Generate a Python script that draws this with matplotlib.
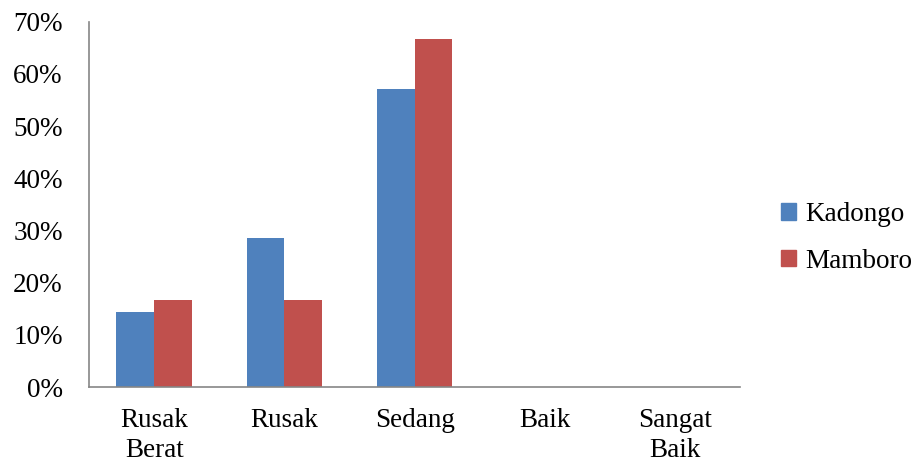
import numpy as np
import matplotlib.pyplot as plt
from matplotlib.patches import Patch
from matplotlib.ticker import FuncFormatter

# kondisi dan persentase per lokasi
kondisi = ['Rusak\nBerat', 'Rusak', 'Sedang', 'Baik', 'Sangat\nBaik']
kadongo = [14.3, 28.6, 57.1, 0, 0]
mamboro = [16.7, 16.7, 66.7, 0, 0]

warna_kadongo = '#4F81BD'
warna_mamboro = '#C0504D'

plt.rcParams['font.family'] = ['Liberation Serif', 'DejaVu Serif']

fig = plt.figure(figsize=(9.16, 4.63), dpi=100)
ax = fig.add_axes([0.0972, 0.164, 0.711, 0.789])

x = np.arange(len(kondisi))
w = 0.29
ax.bar(x - w / 2, kadongo, w, color=warna_kadongo)
ax.bar(x + w / 2, mamboro, w, color=warna_mamboro)

ax.set_xlim(-0.5, len(kondisi) - 0.5)
ax.set_ylim(0, 70)
ax.set_yticks(np.arange(0, 71, 10))
ax.yaxis.set_major_formatter(FuncFormatter(lambda v, p: f'{v:.0f}%'))
ax.set_xticks(x)
ax.set_xticklabels(kondisi, linespacing=1.25)
ax.tick_params(axis='both', length=0, labelsize=19.5)
ax.tick_params(axis='y', pad=19)
ax.tick_params(axis='x', pad=15)

for s in ['top', 'right']:
    ax.spines[s].set_visible(False)
for s in ['left', 'bottom']:
    ax.spines[s].set_color('#868686')
    ax.spines[s].set_linewidth(1.2)

handles = [Patch(color=warna_kadongo), Patch(color=warna_mamboro)]
fig.legend(handles, ['Kadongo', 'Mamboro'], loc='center left',
           bbox_to_anchor=(0.853, 0.486), frameon=False, fontsize=19.5,
           borderpad=0, borderaxespad=0,
           handlelength=0.55, handleheight=0.55, handletextpad=0.35,
           labelspacing=0.8)

fig.savefig('out.png', dpi=100)
